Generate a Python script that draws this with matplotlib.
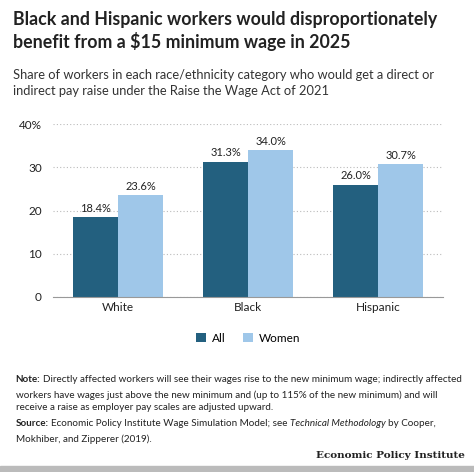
import matplotlib
matplotlib.use("Agg")
import matplotlib.pyplot as plt
import numpy as np

categories = ["White", "Black", "Hispanic"]
all_vals = [18.4, 31.3, 26.0]
women_vals = [23.6, 34.0, 30.7]
yticks = [0, 10, 20, 30, 40]
ytick_labels = ["0", "10", "20", "30", "40%"]

plt.rcParams['font.family'] = ['Lato', 'DejaVu Sans']
dark = "#23607f"
light = "#9fc7e9"
txt = "#222222"

fig = plt.figure(figsize=(4.74, 4.72), dpi=100)
ax = fig.add_axes([0.112, 0.371, 0.823, 0.366])
x = np.arange(len(categories))
w = 0.346
b1 = ax.bar(x - w/2, all_vals, w, color=dark, label="All")
b2 = ax.bar(x + w/2, women_vals, w, color=light, label="Women")
for bars, vals in ((b1, all_vals), (b2, women_vals)):
    for r, v in zip(bars, vals):
        ax.text(r.get_x() + r.get_width()/2, v + 0.8, f"{v:.1f}%", ha="center", va="bottom", fontsize=8, color=txt)
ax.set_xlim(-0.5, 2.5)
ax.set_ylim(0, 40)
ax.set_yticks(yticks)
ax.set_yticklabels(ytick_labels, fontsize=8.5, color=txt)
ax.set_xticks(x)
ax.set_xticklabels(categories, fontsize=8.5, color=txt)
ax.tick_params(length=0, pad=8)
ax.tick_params(axis='x', pad=4)
ax.grid(axis='y', linestyle=(0, (1, 2)), color="#bbbbbb", linewidth=0.8)
ax.set_axisbelow(True)
for s in ["top", "right", "left"]:
    ax.spines[s].set_visible(False)
ax.spines["bottom"].set_color("#999999")
ax.legend(loc="upper center", bbox_to_anchor=(0.5, -0.145), ncol=2, frameon=False, fontsize=8.5,
          handlelength=0.8, handleheight=0.8, columnspacing=1.5, handletextpad=0.5)

fig.text(0.027, 0.977, "Black and Hispanic workers would disproportionately\nbenefit from a $15 minimum wage in 2025",
         fontsize=12.8, fontweight="bold", color=txt, va="top", linespacing=1.25)
fig.text(0.027, 0.853, "Share of workers in each race/ethnicity category who would get a direct or\nindirect pay raise under the Raise the Wage Act of 2021",
         fontsize=9.3, color="#333333", va="top", linespacing=1.35)

fs = 7.1
renderer = fig.canvas.get_renderer()
def labeled(y, label, first_rest, more, italic=None):
    t = fig.text(0.033, y, label, fontsize=fs, fontweight="bold", color=txt, va="top")
    bb = t.get_window_extent(renderer)
    x1 = bb.x1 / fig.bbox.width + 0.006
    if italic:
        pre, it, post = italic
        a = fig.text(x1, y, pre, fontsize=fs, color=txt, va="top")
        x2 = a.get_window_extent(renderer).x1 / fig.bbox.width + 0.005
        b = fig.text(x2, y, it, fontsize=fs, color=txt, va="top", style="italic")
        x3 = b.get_window_extent(renderer).x1 / fig.bbox.width + 0.005
        fig.text(x3, y, post, fontsize=fs, color=txt, va="top")
    else:
        fig.text(x1, y, first_rest, fontsize=fs, color=txt, va="top")
    fig.text(0.033, y - 0.032, more, fontsize=fs, color=txt, va="top", linespacing=1.5)

labeled(0.205, "Note:", "Directly affected workers will see their wages rise to the new minimum wage; indirectly affected",
        "workers have wages just above the new minimum and (up to 115% of the new minimum) and will\n"
        "receive a raise as employer pay scales are adjusted upward.")
labeled(0.112, "Source:", None, "Mokhiber, and Zipperer (2019).",
        italic=("Economic Policy Institute Wage Simulation Model; see", "Technical Methodology", "by Cooper,"))
fig.text(0.98, 0.035, "Economic Policy Institute", fontsize=7.5, fontweight="bold", family="DejaVu Serif",
         ha="right", va="center", color=txt)
fig.add_artist(plt.Rectangle((0, 0), 1, 0.012, transform=fig.transFigure, color="#bbbbbb"))
fig.savefig("out.png", dpi=100)
